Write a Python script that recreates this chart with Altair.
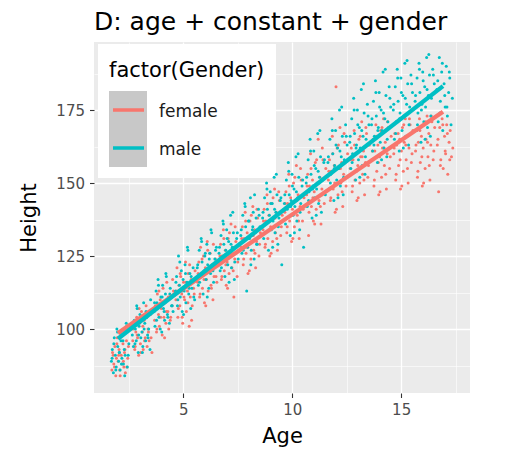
import altair as alt
import pandas as pd

# ggplot2 default hue pair + theme_gray tokens
FEMALE = "#F8766D"
MALE = "#00BFC4"
PANEL = "#EBEBEB"
KEY_BG = "#C8C8C8"
INK = "#000000"
INK_SOFT = "#4D4D4D"
TICK = "#333333"

GENDERS = ["female", "male"]
LEGEND_TITLE = "factor(Gender)"
X_TICKS = [2.5, 5, 7.5, 10, 12.5, 15, 17.5]
Y_TICKS = [87.5, 100, 112.5, 125, 137.5, 150, 162.5, 175, 187.5]

# ── Points, one row per age band ──────────────────────────────────
female_age = [
    1.72, 1.78, 1.81, 1.86, 1.90, 1.93, 1.97, 2.01, 2.05, 2.08, 2.12, 2.15, 2.19, 2.23, 2.27, 2.30, 2.34, 2.39, 2.45, 2.52,
    2.68, 2.73, 2.77, 2.82, 2.86, 2.90, 2.95, 2.99, 3.03, 3.08, 3.12, 3.16, 3.20, 3.25, 3.29, 3.34, 3.38, 3.43, 3.49, 3.56,
    3.68, 3.72, 3.77, 3.81, 3.86, 3.90, 3.94, 3.99, 4.03, 4.07, 4.11, 4.16, 4.20, 4.24, 4.29, 4.33, 4.38, 4.42, 4.48, 4.55,
    4.66, 4.71, 4.75, 4.80, 4.84, 4.88, 4.93, 4.97, 5.01, 5.06, 5.10, 5.14, 5.19, 5.23, 5.27, 5.32, 5.36, 5.41, 5.47, 5.54,
    5.66, 5.71, 5.75, 5.79, 5.84, 5.88, 5.93, 5.97, 6.01, 6.06, 6.10, 6.14, 6.19, 6.23, 6.27, 6.32, 6.36, 6.41, 6.47, 6.54,
    6.66, 6.71, 6.75, 6.79, 6.84, 6.88, 6.93, 6.97, 7.01, 7.06, 7.10, 7.14, 7.19, 7.23, 7.27, 7.32, 7.36, 7.41, 7.47, 7.54,
    7.66, 7.71, 7.75, 7.79, 7.84, 7.88, 7.93, 7.97, 8.01, 8.06, 8.10, 8.14, 8.19, 8.23, 8.27, 8.32, 8.36, 8.41, 8.47, 8.54,
    8.66, 8.71, 8.75, 8.79, 8.84, 8.88, 8.93, 8.97, 9.01, 9.06, 9.10, 9.14, 9.19, 9.23, 9.27, 9.32, 9.36, 9.41, 9.47, 9.54,
    9.66, 9.71, 9.75, 9.79, 9.84, 9.88, 9.93, 9.97, 10.01, 10.06, 10.10, 10.14, 10.19, 10.23, 10.27, 10.32, 10.36, 10.41, 10.47, 10.54,
    10.66, 10.71, 10.75, 10.79, 10.84, 10.88, 10.93, 10.97, 11.01, 11.06, 11.10, 11.14, 11.19, 11.23, 11.27, 11.32, 11.36, 11.41, 11.47, 11.54,
    11.66, 11.71, 11.75, 11.79, 11.84, 11.88, 11.93, 11.97, 12.01, 12.06, 12.10, 12.14, 12.19, 12.23, 12.27, 12.32, 12.36, 12.41, 12.47, 12.54,
    12.66, 12.71, 12.75, 12.79, 12.84, 12.88, 12.93, 12.97, 13.01, 13.06, 13.10, 13.14, 13.19, 13.23, 13.27, 13.32, 13.36, 13.41, 13.47, 13.54,
    13.66, 13.71, 13.75, 13.79, 13.84, 13.88, 13.93, 13.97, 14.01, 14.06, 14.10, 14.14, 14.19, 14.23, 14.27, 14.32, 14.36, 14.41, 14.47, 14.54,
    14.66, 14.71, 14.75, 14.79, 14.84, 14.88, 14.93, 14.97, 15.01, 15.06, 15.10, 15.14, 15.19, 15.23, 15.27, 15.32, 15.36, 15.41, 15.47, 15.54,
    15.66, 15.71, 15.75, 15.79, 15.84, 15.88, 15.93, 15.97, 16.01, 16.06, 16.10, 16.14, 16.19, 16.23, 16.27, 16.32, 16.36, 16.41, 16.47, 16.54,
    16.66, 16.72, 16.77, 16.82, 16.88, 16.93, 16.99, 17.04, 17.09, 17.14, 17.20, 17.25, 17.31, 17.37,
    # second pass over the same bands
    1.75, 1.84, 1.95, 2.03, 2.10, 2.17, 2.25, 2.32, 2.41, 2.48,
    2.70, 2.79, 2.88, 2.97, 3.05, 3.14, 3.22, 3.31, 3.40, 3.52,
    3.70, 3.79, 3.88, 3.96, 4.05, 4.14, 4.22, 4.31, 4.40, 4.51,
    4.68, 4.77, 4.86, 4.95, 5.03, 5.12, 5.21, 5.29, 5.38, 5.50,
    5.68, 5.77, 5.86, 5.95, 6.03, 6.12, 6.21, 6.29, 6.38, 6.50,
    6.68, 6.77, 6.86, 6.95, 7.03, 7.12, 7.21, 7.29, 7.38, 7.50,
    7.68, 7.77, 7.86, 7.95, 8.03, 8.12, 8.21, 8.29, 8.38, 8.50,
    8.68, 8.77, 8.86, 8.95, 9.03, 9.12, 9.21, 9.29, 9.38, 9.50,
    9.68, 9.77, 9.86, 9.95, 10.03, 10.12, 10.21, 10.29, 10.38, 10.50,
    10.68, 10.77, 10.86, 10.95, 11.03, 11.12, 11.21, 11.29, 11.38, 11.50,
    11.68, 11.77, 11.86, 11.95, 12.03, 12.12, 12.21, 12.29, 12.38, 12.50,
    12.68, 12.77, 12.86, 12.95, 13.03, 13.12, 13.21, 13.29, 13.38, 13.50,
    13.68, 13.77, 13.86, 13.95, 14.03, 14.12, 14.21, 14.29, 14.38, 14.50,
    14.68, 14.77, 14.86, 14.95, 15.03, 15.12, 15.21, 15.29, 15.38, 15.50,
    15.68, 15.77, 15.86, 15.95, 16.03, 16.12, 16.21, 16.29, 16.38, 16.50,
    16.69, 16.80, 16.91, 17.02, 17.12, 17.23,
]
female_height = [
    86, 91, 88, 94, 84, 90, 97, 89, 93, 86, 99, 91, 88, 95, 87, 92, 85, 96, 90, 101,
    96, 101, 93, 99, 104, 97, 91, 102, 95, 106, 99, 93, 103, 97, 108, 94, 100, 96, 105, 92,
    103, 108, 99, 112, 105, 101, 110, 107, 98, 114, 104, 109, 102, 116, 106, 100, 111, 104, 108, 113,
    110, 121, 104, 115, 108, 118, 112, 102, 116, 110, 123, 106, 113, 119, 101, 111, 117, 108, 114, 120,
    116, 123, 111, 128, 119, 114, 125, 109, 121, 117, 130, 113, 120, 126, 115, 122, 110, 118, 124, 116,
    122, 129, 117, 125, 134, 120, 127, 115, 123, 131, 119, 126, 136, 121, 128, 111, 124, 130, 118, 127,
    128, 135, 122, 131, 140, 126, 133, 119, 129, 137, 124, 132, 142, 127, 134, 121, 130, 138, 125, 133,
    134, 141, 128, 137, 146, 131, 139, 125, 135, 143, 130, 138, 148, 133, 140, 127, 136, 144, 132, 139,
    140, 147, 133, 143, 153, 137, 145, 130, 141, 150, 135, 144, 156, 139, 146, 131, 142, 151, 137, 145,
    146, 153, 132, 149, 160, 142, 151, 137, 147, 157, 141, 150, 165, 144, 152, 136, 148, 158, 143, 155,
    151, 158, 144, 154, 166, 148, 156, 140, 183, 162, 146, 155, 169, 150, 157, 142, 153, 164, 149, 160,
    155, 162, 147, 158, 168, 151, 160, 144, 156, 165, 150, 159, 171, 153, 161, 146, 157, 167, 152, 163,
    158, 165, 149, 161, 170, 154, 163, 146, 159, 168, 152, 162, 172, 156, 164, 148, 160, 169, 155, 166,
    160, 167, 151, 163, 171, 156, 165, 148, 161, 169, 154, 164, 172, 158, 166, 150, 162, 170, 157, 168,
    161, 168, 152, 164, 172, 157, 166, 149, 162, 170, 155, 165, 173, 159, 167, 151, 163, 171, 158, 169,
    163, 147, 169, 158, 172, 155, 166, 160, 170, 153, 164, 168, 159, 162,
    # second pass
    92, 87, 95, 91, 84, 98, 89, 93, 87, 94,
    100, 94, 98, 107, 92, 101, 96, 104, 99, 97,
    107, 100, 113, 104, 109, 97, 106, 111, 103, 117,
    113, 107, 119, 104, 111, 116, 109, 122, 103, 112,
    119, 112, 124, 117, 108, 127, 121, 114, 129, 118,
    125, 118, 131, 122, 114, 133, 126, 120, 135, 123,
    131, 124, 137, 128, 120, 139, 132, 126, 141, 129,
    137, 129, 143, 134, 126, 145, 138, 131, 147, 135,
    143, 135, 149, 139, 131, 152, 144, 137, 155, 141,
    149, 140, 155, 145, 136, 158, 150, 142, 162, 147,
    154, 145, 160, 150, 141, 163, 155, 147, 167, 152,
    158, 149, 163, 154, 145, 166, 159, 151, 169, 156,
    161, 151, 166, 157, 147, 169, 162, 153, 171, 159,
    162, 153, 167, 158, 149, 170, 163, 155, 172, 160,
    163, 154, 168, 159, 150, 171, 164, 156, 173, 161,
    165, 156, 170, 161, 167, 158,
]
male_age = [
    1.70, 1.74, 1.79, 1.83, 1.88, 1.92, 1.95, 1.99, 2.03, 2.07, 2.10, 2.14, 2.18, 2.21, 2.25, 2.29, 2.33, 2.38, 2.43, 2.50,
    2.66, 2.71, 2.75, 2.80, 2.84, 2.88, 2.93, 2.97, 3.01, 3.05, 3.10, 3.14, 3.18, 3.23, 3.27, 3.32, 3.36, 3.41, 3.47, 3.54,
    3.66, 3.70, 3.75, 3.79, 3.84, 3.88, 3.92, 3.97, 4.01, 4.05, 4.09, 4.14, 4.18, 4.22, 4.27, 4.31, 4.36, 4.40, 4.46, 4.53,
    4.64, 4.69, 4.73, 4.78, 4.82, 4.86, 4.91, 4.95, 4.99, 5.04, 5.08, 5.12, 5.17, 5.21, 5.25, 5.30, 5.34, 5.39, 5.45, 5.52,
    5.64, 5.69, 5.73, 5.77, 5.82, 5.86, 5.91, 5.95, 5.99, 6.04, 6.08, 6.12, 6.17, 6.21, 6.25, 6.30, 6.34, 6.39, 6.45, 6.52,
    6.64, 6.69, 6.73, 6.77, 6.82, 6.86, 6.91, 6.95, 6.99, 7.04, 7.08, 7.12, 7.17, 7.21, 7.25, 7.30, 7.34, 7.39, 7.45, 7.52,
    7.64, 7.69, 7.73, 7.77, 7.82, 7.86, 7.91, 7.95, 7.99, 8.04, 8.08, 8.12, 8.17, 8.21, 8.25, 8.30, 8.34, 8.39, 8.45, 8.52,
    8.64, 8.69, 8.73, 8.77, 8.82, 8.86, 8.91, 8.95, 8.99, 9.04, 9.08, 9.12, 9.17, 9.21, 9.25, 9.30, 9.34, 9.39, 9.45, 9.52,
    9.64, 9.69, 9.73, 9.77, 9.82, 9.86, 9.91, 9.95, 9.99, 10.04, 10.08, 10.12, 10.17, 10.21, 10.25, 10.30, 10.34, 10.39, 10.45, 10.52,
    10.64, 10.69, 10.73, 10.77, 10.82, 10.86, 10.91, 10.95, 10.99, 11.04, 11.08, 11.12, 11.17, 11.21, 11.25, 11.30, 11.34, 11.39, 11.45, 11.52,
    11.64, 11.69, 11.73, 11.77, 11.82, 11.86, 11.91, 11.95, 11.99, 12.04, 12.08, 12.12, 12.17, 12.21, 12.25, 12.30, 12.34, 12.39, 12.45, 12.52,
    12.64, 12.69, 12.73, 12.77, 12.82, 12.86, 12.91, 12.95, 12.99, 13.04, 13.08, 13.12, 13.17, 13.21, 13.25, 13.30, 13.34, 13.39, 13.45, 13.52,
    13.64, 13.69, 13.73, 13.77, 13.82, 13.86, 13.91, 13.95, 13.99, 14.04, 14.08, 14.12, 14.17, 14.21, 14.25, 14.30, 14.34, 14.39, 14.45, 14.52,
    14.64, 14.69, 14.73, 14.77, 14.82, 14.86, 14.91, 14.95, 14.99, 15.04, 15.08, 15.12, 15.17, 15.21, 15.25, 15.30, 15.34, 15.39, 15.45, 15.52,
    15.64, 15.69, 15.73, 15.77, 15.82, 15.86, 15.91, 15.95, 15.99, 16.04, 16.08, 16.12, 16.17, 16.21, 16.25, 16.30, 16.34, 16.39, 16.45, 16.52,
    16.64, 16.70, 16.75, 16.80, 16.86, 16.91, 16.97, 17.02, 17.07, 17.12, 17.18, 17.23, 17.29, 17.35,
    # second pass
    1.73, 1.81, 1.90, 1.98, 2.06, 2.16, 2.23, 2.31, 2.40, 2.47,
    2.69, 2.78, 2.86, 2.95, 3.03, 3.12, 3.20, 3.29, 3.38, 3.50,
    3.68, 3.77, 3.86, 3.94, 4.03, 4.12, 4.20, 4.29, 4.38, 4.49,
    4.66, 4.75, 4.84, 4.93, 5.01, 5.10, 5.19, 5.27, 5.36, 5.48,
    5.66, 5.75, 5.84, 5.93, 6.01, 6.10, 6.19, 6.27, 6.36, 6.48,
    6.66, 6.75, 6.84, 6.93, 7.01, 7.10, 7.19, 7.27, 7.36, 7.48,
    7.66, 7.75, 7.84, 7.93, 8.01, 8.10, 8.19, 8.27, 8.36, 8.48,
    8.66, 8.75, 8.84, 8.93, 9.01, 9.10, 9.19, 9.27, 9.36, 9.48,
    9.66, 9.75, 9.84, 9.93, 10.01, 10.10, 10.19, 10.27, 10.36, 10.48,
    10.66, 10.75, 10.84, 10.93, 11.01, 11.10, 11.19, 11.27, 11.36, 11.48,
    11.66, 11.75, 11.84, 11.93, 12.01, 12.10, 12.19, 12.27, 12.36, 12.48,
    12.66, 12.75, 12.84, 12.93, 13.01, 13.10, 13.19, 13.27, 13.36, 13.48,
    13.66, 13.75, 13.84, 13.93, 14.01, 14.10, 14.19, 14.27, 14.36, 14.48,
    14.66, 14.75, 14.84, 14.93, 15.01, 15.10, 15.19, 15.27, 15.36, 15.48,
    15.66, 15.75, 15.84, 15.93, 16.01, 16.10, 16.19, 16.27, 16.36, 16.48,
    16.68, 16.78, 16.89, 17.00, 17.10, 17.21,
]
male_height = [
    89, 93, 85, 97, 91, 87, 100, 94, 89, 92, 86, 96, 90, 98, 88, 93, 91, 102, 87, 95,
    98, 94, 103, 100, 96, 107, 92, 101, 105, 97, 99, 94, 109, 102, 96, 104, 98, 100, 93, 106,
    106, 101, 113, 109, 117, 104, 108, 111, 99, 115, 107, 103, 112, 118, 105, 110, 102, 114, 108, 106,
    113, 118, 108, 125, 115, 111, 120, 106, 117, 113, 122, 109, 116, 127, 112, 119, 107, 114, 121, 110,
    121, 115, 127, 118, 131, 123, 112, 120, 125, 117, 129, 122, 114, 126, 119, 133, 121, 116, 124, 128,
    126, 120, 132, 124, 137, 129, 118, 127, 134, 122, 130, 125, 139, 121, 128, 133, 117, 126, 131, 124,
    132, 126, 139, 130, 143, 135, 113, 128, 137, 131, 145, 127, 134, 140, 124, 133, 138, 129, 141, 135,
    138, 131, 145, 136, 150, 141, 127, 139, 147, 134, 143, 137, 152, 133, 140, 146, 129, 138, 144, 122,
    143, 136, 151, 141, 157, 146, 132, 144, 153, 139, 148, 142, 159, 137, 145, 152, 134, 143, 149, 128,
    150, 142, 158, 147, 165, 153, 138, 149, 161, 145, 155, 148, 167, 143, 152, 159, 140, 151, 157, 146,
    157, 148, 165, 153, 172, 160, 144, 156, 168, 151, 162, 155, 175, 149, 159, 166, 146, 158, 170, 163,
    164, 155, 172, 160, 179, 167, 151, 163, 175, 158, 169, 162, 182, 156, 166, 174, 153, 165, 177, 170,
    170, 161, 178, 166, 185, 173, 157, 169, 181, 164, 175, 168, 188, 162, 172, 180, 159, 171, 183, 176,
    175, 165, 183, 171, 189, 178, 161, 174, 186, 168, 180, 173, 191, 166, 177, 184, 163, 176, 187, 181,
    178, 168, 186, 174, 191, 181, 164, 177, 188, 171, 183, 176, 193, 169, 180, 187, 166, 179, 189, 184,
    182, 171, 193, 178, 188, 168, 184, 176, 190, 173, 181, 186, 170, 179,
    # second pass
    90, 95, 86, 99, 92, 88, 96, 84, 101, 91,
    101, 95, 108, 98, 103, 92, 100, 106, 97, 110,
    109, 103, 115, 100, 111, 106, 119, 104, 112, 108,
    116, 110, 123, 113, 105, 119, 128, 114, 118, 111,
    122, 116, 130, 119, 126, 111, 124, 134, 120, 127,
    128, 121, 136, 125, 131, 116, 129, 140, 123, 133,
    134, 127, 142, 131, 137, 122, 135, 146, 129, 139,
    140, 133, 148, 137, 143, 128, 141, 153, 135, 145,
    146, 138, 154, 142, 149, 133, 147, 160, 140, 151,
    152, 144, 161, 148, 156, 139, 154, 168, 146, 158,
    159, 150, 168, 155, 163, 145, 161, 176, 152, 166,
    166, 157, 175, 162, 170, 152, 168, 184, 159, 173,
    172, 163, 181, 168, 176, 158, 174, 189, 165, 179,
    177, 167, 186, 172, 181, 162, 179, 192, 170, 184,
    180, 170, 189, 175, 185, 165, 182, 194, 173, 187,
    185, 174, 191, 180, 176, 188,
]

# Fitted lines: end points
line_gender = ["female", "female", "male", "male"]
line_age = [2.0, 16.92, 2.0, 16.92]
line_height = [98.6, 174.4, 96.7, 183.2]

points = pd.concat(
    [
        pd.DataFrame({"gender": "female", "age": female_age, "height": female_height}),
        pd.DataFrame({"gender": "male", "age": male_age, "height": male_height}),
    ],
    ignore_index=True,
)
fits = pd.DataFrame({"gender": line_gender, "age": line_age, "height": line_height})
one = pd.DataFrame({"k": [0]})

hue = alt.Scale(domain=GENDERS, range=[FEMALE, MALE])

x_enc = alt.X(
    "age:Q",
    title="Age",
    scale=alt.Scale(domain=[0.9, 18.16], nice=False, zero=False),
    axis=alt.Axis(
        values=X_TICKS,
        labelExpr="datum.value % 5 === 0 ? datum.label : ''",
        gridWidth={"condition": {"test": "datum.value % 5 === 0", "value": 1.3}, "value": 0.6},
        tickOpacity={"condition": {"test": "datum.value % 5 === 0", "value": 1}, "value": 0},
    ),
)
y_enc = alt.Y(
    "height:Q",
    title="Height",
    scale=alt.Scale(domain=[78.1, 198.3], nice=False, zero=False),
    axis=alt.Axis(
        values=Y_TICKS,
        labelExpr="datum.value % 25 === 0 ? datum.label : ''",
        gridWidth={"condition": {"test": "datum.value % 25 === 0", "value": 1.3}, "value": 0.6},
        tickOpacity={"condition": {"test": "datum.value % 25 === 0", "value": 1}, "value": 0},
    ),
)

# ── ggplot-style legend, drawn in panel pixels (top-left inset) ───
legend_box = alt.Chart(one).mark_rect(fill="white").encode(
    x=alt.value(4), x2=alt.value(182), y=alt.value(2), y2=alt.value(136)
)
key_strip = alt.Chart(one).mark_rect(fill=KEY_BG).encode(
    x=alt.value(15), x2=alt.value(53), y=alt.value(49), y2=alt.value(125)
)
legend_title = alt.Chart(one).mark_text(
    text=LEGEND_TITLE, fontSize=21, color=INK, align="left", baseline="alphabetic"
).encode(x=alt.value(15), y=alt.value(35))

legend_parts = []
for gender, colour, row_y in zip(GENDERS, [FEMALE, MALE], [68, 106]):
    legend_parts.append(
        alt.Chart(one).mark_rule(color=colour, strokeWidth=3.5).encode(
            x=alt.value(19), x2=alt.value(50), y=alt.value(row_y)
        )
    )
    legend_parts.append(
        alt.Chart(one).mark_text(
            text=gender, fontSize=17, color="#1A1A1A", align="left", baseline="alphabetic"
        ).encode(x=alt.value(65), y=alt.value(row_y + 7))
    )

dots = alt.Chart(points).mark_circle(size=9, opacity=1).encode(
    x=x_enc,
    y=y_enc,
    color=alt.Color("gender:N", scale=hue, legend=None),
)

lines = alt.Chart(fits).mark_line(strokeWidth=4.3).encode(
    x=x_enc,
    y=y_enc,
    color=alt.Color("gender:N", scale=hue, legend=None),
)

chart = (
    alt.layer(legend_box, key_strip, legend_title, *legend_parts, dots, lines)
    .properties(
        width=376,
        height=351,
        padding={"left": 10, "top": 2, "right": 5, "bottom": 5},
        title=alt.TitleParams(
            "D: age + constant + gender",
            fontSize=25,
            fontWeight="normal",
            color=INK,
            anchor="start",
            frame="group",
            offset=7,
        ),
    )
    .configure(font="DejaVu Sans")
    .configure_view(fill=PANEL, stroke=None)
    .configure_axis(
        grid=True,
        gridColor="white",
        domain=False,
        tickColor=TICK,
        tickWidth=1.1,
        tickSize=4.5,
        labelColor=INK_SOFT,
        labelFontSize=15,
        labelPadding=5,
        titleColor=INK,
        titleFontSize=21,
        titleFontWeight="normal",
    )
    .configure_axisY(titlePadding=16)
    .configure_axisX(titlePadding=8)
)

chart.save("out.html", embed_options={"renderer": "svg", "actions": False})
